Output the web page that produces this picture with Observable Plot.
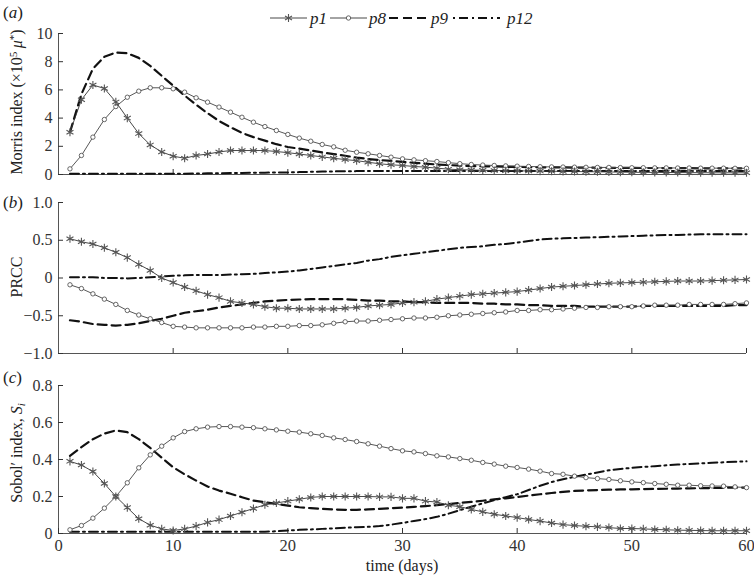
<!DOCTYPE html>
<html><head><meta charset="utf-8">
<script src="https://cdn.jsdelivr.net/npm/d3@7"></script>
<script src="https://cdn.jsdelivr.net/npm/@observablehq/plot@0.6"></script>
<style>
body{margin:0;background:#fff;}
#wrap{position:relative;width:754px;height:576px;font-family:"Liberation Serif","DejaVu Serif",serif;color:#222;overflow:hidden;}
.panel{position:absolute;left:0;}
.panel svg{overflow:visible;}
.ylab{position:absolute;white-space:nowrap;font-size:16px;transform:translate(-50%,-50%) rotate(-90deg);line-height:1;}
.plab{position:absolute;font-size:17px;line-height:1;}
.xlab{position:absolute;font-size:16px;transform:translateX(-50%);white-space:nowrap;line-height:1;}
sup{font-size:0.7em;vertical-align:0.45em;line-height:0;}
sub{font-size:0.7em;vertical-align:-0.25em;line-height:0;}
</style></head><body><div id="wrap"></div>
<script>
// ---- data ----
const days = d3.range(1, 61);
const params = ["p1", "p8", "p9", "p12"];

// (a) Morris index (x10^5 mu*)
const morrisP1 = [3.0,5.3,6.35,6.1,5.15,4.0,2.9,2.1,1.6,1.3, 1.15,1.35,1.45,1.6,1.7,1.7,1.7,1.7,1.63,1.55, 1.45,1.35,1.25,1.15,1.06,0.98,0.87,0.76,0.69,0.64, 0.57,0.52,0.45,0.38,0.34,0.32,0.3,0.28,0.27,0.26, 0.25,0.24,0.23,0.22,0.21,0.2,0.19,0.18,0.17,0.16, 0.15,0.15,0.14,0.14,0.13,0.13,0.12,0.12,0.12,0.12];
const morrisP8 = [0.4,1.35,2.65,3.9,4.82,5.48,5.91,6.15,6.15,6.08, 5.84,5.44,5.13,4.78,4.42,4.06,3.71,3.4,3.12,2.84, 2.58,2.36,2.13,1.96,1.72,1.58,1.47,1.35,1.23,1.11, 1.04,0.98,0.92,0.84,0.77,0.71,0.67,0.64,0.61,0.59, 0.57,0.55,0.54,0.53,0.52,0.51,0.5,0.5,0.49,0.48, 0.48,0.47,0.47,0.46,0.46,0.45,0.45,0.45,0.44,0.44];
const morrisP9 = [3.0,5.7,7.5,8.35,8.65,8.6,8.27,7.7,7.0,6.3, 5.6,4.95,4.35,3.8,3.35,2.95,2.65,2.4,2.15,1.95, 1.83,1.7,1.57,1.45,1.33,1.2,1.1,1.03,0.96,0.9, 0.83,0.77,0.71,0.67,0.63,0.6,0.58,0.57,0.55,0.54, 0.52,0.51,0.5,0.5,0.49,0.49,0.48,0.48,0.47,0.47, 0.46,0.46,0.45,0.45,0.45,0.44,0.44,0.44,0.43,0.43];
const morrisP12 = [0.05,0.05,0.05,0.05,0.05,0.05,0.05,0.05,0.05,0.05, 0.06,0.07,0.08,0.09,0.1,0.11,0.12,0.13,0.14,0.15, 0.17,0.19,0.21,0.22,0.23,0.24,0.24,0.24,0.24,0.24, 0.24,0.24,0.24,0.24,0.24,0.24,0.24,0.24,0.24,0.24, 0.24,0.24,0.25,0.25,0.25,0.25,0.25,0.25,0.25,0.25, 0.25,0.25,0.25,0.25,0.25,0.25,0.25,0.25,0.25,0.25];

// (b) PRCC
const prccP1 = [0.52,0.48,0.45,0.40,0.34,0.27,0.18,0.10,0.0,-0.06, -0.12,-0.17,-0.22,-0.26,-0.31,-0.33,-0.35,-0.38,-0.40,-0.40, -0.41,-0.41,-0.41,-0.41,-0.40,-0.39,-0.37,-0.36,-0.35,-0.33, -0.32,-0.31,-0.28,-0.26,-0.24,-0.22,-0.21,-0.20,-0.19,-0.18, -0.16,-0.14,-0.12,-0.11,-0.10,-0.09,-0.08,-0.07,-0.065,-0.06, -0.055,-0.05,-0.045,-0.04,-0.04,-0.04,-0.035,-0.03,-0.025,-0.02];
const prccP8 = [-0.09,-0.14,-0.21,-0.28,-0.35,-0.43,-0.49,-0.54,-0.59,-0.64, -0.65,-0.66,-0.66,-0.66,-0.66,-0.66,-0.65,-0.65,-0.64,-0.64, -0.63,-0.63,-0.62,-0.60,-0.58,-0.57,-0.57,-0.56,-0.55,-0.54, -0.53,-0.53,-0.52,-0.50,-0.49,-0.48,-0.47,-0.46,-0.45,-0.43, -0.43,-0.42,-0.42,-0.41,-0.40,-0.39,-0.39,-0.38,-0.38,-0.38, -0.37,-0.36,-0.36,-0.36,-0.35,-0.35,-0.35,-0.35,-0.34,-0.33];
const prccP9 = [-0.56,-0.58,-0.61,-0.62,-0.63,-0.62,-0.60,-0.57,-0.54,-0.50, -0.46,-0.44,-0.42,-0.39,-0.37,-0.35,-0.33,-0.31,-0.30,-0.29, -0.285,-0.28,-0.28,-0.28,-0.28,-0.29,-0.30,-0.30,-0.31,-0.31, -0.32,-0.32,-0.33,-0.33,-0.33,-0.33,-0.34,-0.34,-0.35,-0.35, -0.36,-0.36,-0.37,-0.37,-0.37,-0.38,-0.38,-0.38,-0.38,-0.38, -0.37,-0.37,-0.37,-0.37,-0.37,-0.37,-0.37,-0.37,-0.36,-0.36];
const prccP12 = [0.01,0.01,0.01,0.0,0.0,-0.005,0.0,0.01,0.02,0.03, 0.035,0.04,0.04,0.04,0.045,0.05,0.055,0.065,0.075,0.085, 0.1,0.12,0.14,0.16,0.18,0.2,0.23,0.25,0.28,0.30, 0.32,0.34,0.36,0.38,0.40,0.41,0.42,0.44,0.45,0.47, 0.49,0.51,0.52,0.525,0.53,0.535,0.54,0.545,0.55,0.555, 0.56,0.565,0.57,0.57,0.575,0.58,0.58,0.58,0.58,0.58];

// (c) Sobol' index S_i
const sobolP1 = [0.39,0.37,0.335,0.27,0.20,0.14,0.08,0.045,0.025,0.016, 0.025,0.04,0.06,0.075,0.095,0.115,0.135,0.155,0.165,0.175, 0.185,0.195,0.20,0.20,0.20,0.20,0.20,0.198,0.198,0.19, 0.19,0.175,0.17,0.153,0.145,0.13,0.117,0.104,0.095,0.086, 0.076,0.067,0.057,0.048,0.043,0.039,0.036,0.032,0.027,0.027, 0.025,0.022,0.02,0.018,0.017,0.016,0.015,0.015,0.015,0.015];
const sobolP8 = [0.02,0.043,0.083,0.137,0.20,0.274,0.355,0.425,0.472,0.517, 0.551,0.566,0.575,0.578,0.578,0.575,0.572,0.566,0.56,0.553, 0.548,0.539,0.53,0.517,0.508,0.497,0.485,0.472,0.459,0.447, 0.441,0.432,0.42,0.414,0.405,0.396,0.384,0.375,0.364,0.357, 0.348,0.337,0.324,0.32,0.31,0.302,0.297,0.292,0.285,0.279, 0.275,0.27,0.266,0.261,0.261,0.258,0.257,0.256,0.252,0.248];
const sobolP9 = [0.42,0.467,0.51,0.54,0.557,0.548,0.51,0.463,0.41,0.358, 0.32,0.286,0.254,0.232,0.215,0.196,0.178,0.169,0.16,0.151, 0.142,0.137,0.133,0.13,0.128,0.128,0.13,0.133,0.137,0.14, 0.144,0.148,0.153,0.159,0.165,0.171,0.177,0.184,0.19,0.197, 0.205,0.212,0.219,0.225,0.23,0.233,0.235,0.237,0.238,0.239, 0.24,0.241,0.242,0.243,0.244,0.245,0.246,0.247,0.248,0.248];
const sobolP12 = [0.01,0.01,0.01,0.01,0.01,0.01,0.01,0.01,0.01,0.01, 0.01,0.01,0.01,0.01,0.01,0.01,0.01,0.01,0.012,0.016, 0.02,0.022,0.025,0.028,0.031,0.034,0.036,0.04,0.048,0.057, 0.068,0.078,0.09,0.107,0.126,0.145,0.163,0.18,0.196,0.212, 0.235,0.258,0.278,0.293,0.306,0.318,0.33,0.342,0.349,0.355, 0.36,0.364,0.369,0.373,0.376,0.379,0.382,0.385,0.388,0.39];

const xTicks = [0, 10, 20, 30, 40, 50, 60];
const morrisTicks = [0, 2, 4, 6, 8, 10];
const prccTicks = [-1, -0.5, 0, 0.5, 1];
const prccLabels = ["\u22121.0", "\u22120.5", "0", "0.5", "1.0"];
const sobolTicks = [0, 0.2, 0.4, 0.6, 0.8];
const sobolLabels = ["0", "0.2", "0.4", "0.6", "0.8"];

// ---- helpers ----
function rowsOf(p1, p8, p9, p12) {
  const src = {p1, p8, p9, p12};
  const rows = [];
  for (const k of params) src[k].forEach((v, i) => rows.push({day: days[i], v, param: k}));
  return rows;
}

const FONT = "'Liberation Serif', 'DejaVu Serif', serif";

function panel({rows, yDomain, yTicks, yFormat, height, marginTop, marginBottom, xLabels}) {
  const sel = k => rows.filter(d => d.param === k);
  return Plot.plot({
    width: 754, height, marginLeft: 58, marginRight: 8, marginTop, marginBottom,
    style: {fontFamily: FONT, fontSize: "16px", color: "#333", overflow: "visible"},
    x: {domain: [0, 60]},
    y: {domain: yDomain},
    marks: [
      Plot.ruleX([0], {stroke: "#555", strokeWidth: 1}),
      Plot.ruleY([yDomain[0]], {stroke: "#555", strokeWidth: 1}),
      Plot.axisY({ticks: yTicks, tickFormat: yFormat, tickSize: -5, tickPadding: 11, label: null, fontSize: 16}),
      xLabels
        ? Plot.axisX({ticks: xTicks, tickSize: -5, tickPadding: 11, label: null, fontSize: 16.5})
        : Plot.axisX({ticks: xTicks.slice(1), tickSize: -5, tickFormat: () => "", label: null}),
      Plot.line(sel("p12"), {x: "day", y: "v", stroke: "#111", strokeWidth: 2, strokeDasharray: "9,4,2,4"}),
      Plot.line(sel("p9"), {x: "day", y: "v", stroke: "#111", strokeWidth: 2.2, strokeDasharray: "9,5"}),
      Plot.line(sel("p8"), {x: "day", y: "v", stroke: "#444", strokeWidth: 0.9}),
      Plot.dot(sel("p8"), {x: "day", y: "v", r: 2.2, fill: "white", stroke: "#444", strokeWidth: 0.8}),
      Plot.line(sel("p1"), {x: "day", y: "v", stroke: "#333", strokeWidth: 0.9}),
      Plot.dot(sel("p1"), {x: "day", y: "v", symbol: "asterisk", r: 3.8, stroke: "#555", strokeWidth: 1.1})
    ]
  });
}

const wrap = document.getElementById("wrap");
function place(el, top) {
  const d = document.createElement("div");
  d.className = "panel";
  d.style.top = top + "px";
  d.appendChild(el);
  wrap.appendChild(d);
}

place(panel({rows: rowsOf(morrisP1, morrisP8, morrisP9, morrisP12), yDomain: [0, 10], yTicks: morrisTicks,
  yFormat: d => String(d), height: 180, marginTop: 33, marginBottom: 6, xLabels: false}), 0);
place(panel({rows: rowsOf(prccP1, prccP8, prccP9, prccP12), yDomain: [-1, 1], yTicks: prccTicks,
  yFormat: d => prccLabels[prccTicks.indexOf(d)], height: 180, marginTop: 22, marginBottom: 7, xLabels: false}), 180);
place(panel({rows: rowsOf(sobolP1, sobolP8, sobolP9, sobolP12), yDomain: [0, 0.8], yTicks: sobolTicks,
  yFormat: d => sobolLabels[sobolTicks.indexOf(d)], height: 216, marginTop: 25, marginBottom: 43, xLabels: true}), 360);

// ---- text overlays ----
function addHTML(cls, html, style) {
  const d = document.createElement("div");
  d.className = cls;
  d.innerHTML = html;
  Object.assign(d.style, style);
  wrap.appendChild(d);
}
addHTML("plab", "(<i>a</i>)", {left: "3px", top: "4px"});
addHTML("plab", "(<i>b</i>)", {left: "3px", top: "194px"});
addHTML("plab", "(<i>c</i>)", {left: "3px", top: "369px"});
addHTML("ylab", "Morris index (×10<sup>5</sup>\u2009<i>μ</i><sup>*</sup>)", {left: "17px", top: "102px"});
addHTML("ylab", "PRCC", {left: "17px", top: "277px"});
addHTML("ylab", "Sobol\u2032 index, <i>S</i><sub><i>i</i></sub>", {left: "17px", top: "453px"});
addHTML("xlab", "time (days)", {left: "402px", top: "558px"});

// ---- legend ----
const ns = "http://www.w3.org/2000/svg";
const leg = document.createElementNS(ns, "svg");
leg.setAttribute("width", 754); leg.setAttribute("height", 32);
leg.style.position = "absolute"; leg.style.left = "0"; leg.style.top = "0";
const legendItems = [
  {label: "p1", x0: 270, x1: 307, tx: 310, dash: null, w: 0.9, marker: "star"},
  {label: "p8", x0: 330, x1: 367, tx: 369, dash: null, w: 0.9, marker: "circle"},
  {label: "p9", x0: 389, x1: 429, tx: 431, dash: "9,5", w: 2.2, marker: null},
  {label: "p12", x0: 453, x1: 500, tx: 507, dash: "2,4,9,4", w: 2, marker: null}
];
const LY = 18;
for (const it of legendItems) {
  const l = document.createElementNS(ns, "line");
  l.setAttribute("x1", it.x0); l.setAttribute("x2", it.x1);
  l.setAttribute("y1", LY); l.setAttribute("y2", LY);
  l.setAttribute("stroke", it.dash ? "#111" : "#333");
  l.setAttribute("stroke-width", it.w);
  if (it.dash) l.setAttribute("stroke-dasharray", it.dash);
  leg.appendChild(l);
  const cx = (it.x0 + it.x1) / 2;
  if (it.marker === "circle") {
    const c = document.createElementNS(ns, "circle");
    c.setAttribute("cx", cx); c.setAttribute("cy", LY); c.setAttribute("r", 2.2);
    c.setAttribute("fill", "white"); c.setAttribute("stroke", "#444"); c.setAttribute("stroke-width", 0.8);
    leg.appendChild(c);
  } else if (it.marker === "star") {
    const p = document.createElementNS(ns, "path");
    p.setAttribute("d", d3.symbol(d3.symbolAsterisk, 3.8 * 3.8 * Math.PI)());
    p.setAttribute("transform", `translate(${cx},${LY})`);
    p.setAttribute("stroke", "#555"); p.setAttribute("stroke-width", 1.1); p.setAttribute("fill", "none");
    leg.appendChild(p);
  }
  const t = document.createElementNS(ns, "text");
  t.setAttribute("x", it.tx); t.setAttribute("y", LY + 5.5);
  t.setAttribute("font-family", FONT); t.setAttribute("font-size", 17);
  t.setAttribute("font-style", "italic"); t.setAttribute("fill", "#222");
  t.textContent = it.label;
  leg.appendChild(t);
}
wrap.appendChild(leg);
</script>
</body></html>
